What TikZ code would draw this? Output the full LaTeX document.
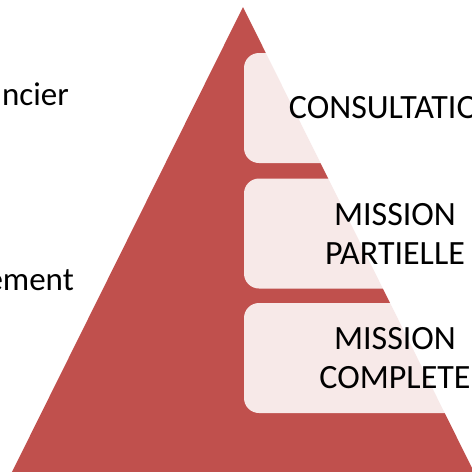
\documentclass[tikz,border=0pt]{standalone}
\usepackage{fontspec}
\setmainfont{Carlito}
\usetikzlibrary{positioning}

\definecolor{pyrred}{HTML}{C0504D}

\tikzset{
  levelbox/.style={rectangle,rounded corners=15pt,fill=white,fill opacity=0.875,text opacity=1,
    minimum width=302pt,minimum height=110pt,inner sep=0pt,align=center,
    font=\fontsize{34}{39}\selectfont},
  sidetext/.style={inner sep=0pt,anchor=base east,font=\fontsize{33}{39}\selectfont}
}

\begin{document}
\begin{tikzpicture}[x=1pt,y=-1pt]
\useasboundingbox (0,0) rectangle (472,472);
\clip (0,0) rectangle (472,472);
% pyramid
\coordinate (top) at (243,7);
\coordinate (bl) at (10,476);
\coordinate (br) at (476,476);
\fill[pyrred] (top) -- (br) -- (bl) -- cycle;
% levels
\node[levelbox] (consult)  at (395,108)   {CONSULTATION};
\node[levelbox] (partial)  at (395,233.5) {MISSION\\PARTIELLE};
\node[levelbox] (complete) at (395,358)   {MISSION\\COMPLETE};
% left labels
\node[sidetext] (fin)  at (69,105) {ncier};
\node[sidetext] (ment) at (74,290) {ement};
\end{tikzpicture}
\end{document}
